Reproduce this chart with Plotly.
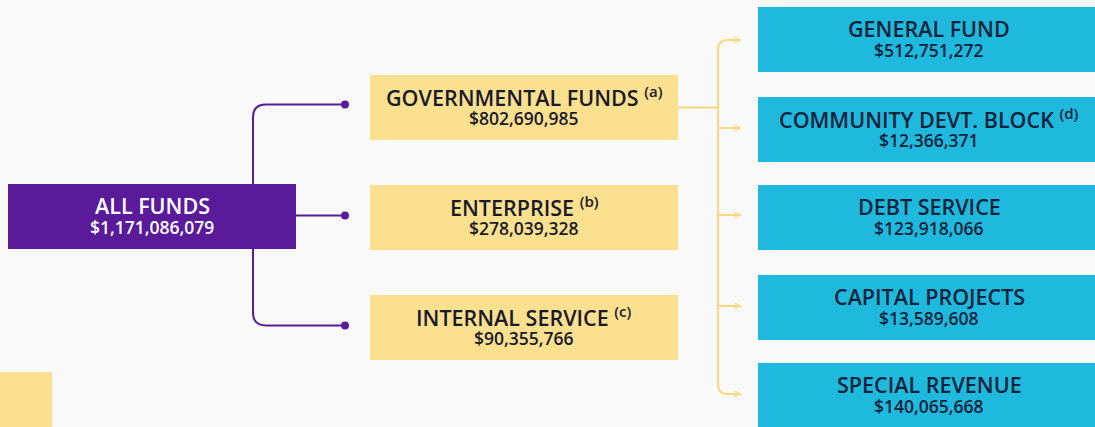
import plotly.graph_objects as go

# data
root_name = "ALL FUNDS"
root_value = "$1,171,086,079"

mid_names = ["GOVERNMENTAL FUNDS", "ENTERPRISE", "INTERNAL SERVICE"]
mid_notes = ["(a)", "(b)", "(c)"]
mid_values = ["$802,690,985", "$278,039,328", "$90,355,766"]

gov_names = ["GENERAL FUND", "COMMUNITY DEVT. BLOCK", "DEBT SERVICE",
             "CAPITAL PROJECTS", "SPECIAL REVENUE"]
gov_notes = ["", "(d)", "", "", ""]
gov_values = ["$512,751,272", "$12,366,371", "$123,918,066",
              "$13,589,608", "$140,065,668"]

W, H = 1095, 427
PURPLE = "#5a1b9b"
YELLOW = "#fbe08f"
YLINE = "#f8d982"
CYAN = "#1fb9de"
DARK = "#1a1a2a"
NAVY = "#10233a"
FONT = "Open Sans"

fig = go.Figure()
shapes = []
annotations = []


def box(x0, y0, x1, y1, color):
    shapes.append(dict(type="rect", x0=x0, y0=y0, x1=x1, y1=y1,
                       fillcolor=color, line=dict(width=0), layer="below"))


def label(x, y, name, note, value, color):
    title = name
    if note:
        title += " <sup>" + note + "</sup>"
    annotations.append(dict(x=x, y=y - 11, text=title, showarrow=False,
                            font=dict(family=FONT, size=21.5, color=color, weight=600)))
    annotations.append(dict(x=x, y=y + 10, text=value, showarrow=False,
                            font=dict(family=FONT, size=17.5, color=color, weight=600)))


def path(d, color, width=2):
    shapes.append(dict(type="path", path=d, line=dict(color=color, width=width)))


# decorative yellow square bottom-left
box(0, 372, 52, H, YELLOW)

# root box
root_x0, root_x1, root_y0, root_y1 = 8, 296, 184, 249
box(root_x0, root_y0, root_x1, root_y1, PURPLE)
label((root_x0 + root_x1) / 2, (root_y0 + root_y1) / 2, root_name, "", root_value, "white")

# middle level
mid_x0, mid_x1, mid_h, mid_gap = 370, 678, 65, 110
mid_top = 75
mid_centers = [mid_top + mid_h / 2 + i * mid_gap for i in range(len(mid_names))]
for c, n, note, v in zip(mid_centers, mid_names, mid_notes, mid_values):
    box(mid_x0, c - mid_h / 2, mid_x1, c + mid_h / 2, YELLOW)
    label((mid_x0 + mid_x1) / 2, c, n, note, v, DARK)

# purple connectors
vx, dot_x, r = 253, 345, 13
top_y, mid_y, bot_y = mid_centers[0] - 3, mid_centers[1] - 2, mid_centers[2] - 2
path(f"M {vx} {root_y0} L {vx} {top_y + r} Q {vx} {top_y} {vx + r} {top_y} L {dot_x} {top_y}", PURPLE)
path(f"M {root_x1} {mid_y} L {dot_x} {mid_y}", PURPLE)
path(f"M {vx} {root_y1} L {vx} {bot_y - r} Q {vx} {bot_y} {vx + r} {bot_y} L {dot_x} {bot_y}", PURPLE)
for y in (top_y, mid_y, bot_y):
    shapes.append(dict(type="circle", x0=dot_x - 4, x1=dot_x + 4, y0=y - 4, y1=y + 4,
                       fillcolor=PURPLE, line=dict(width=0)))

# governmental breakdown
gov_x0, gov_x1 = 758, W + 5
gov_tops = [7, 97, 185, 275, 363]
gov_h = 65
gov_centers = [t + gov_h / 2 for t in gov_tops]
for c, n, note, v in zip(gov_centers, gov_names, gov_notes, gov_values):
    box(gov_x0, c - gov_h / 2, gov_x1, c + gov_h / 2, CYAN)
    label(929, c, n, note, v, NAVY)

# yellow bracket
bx, tick_x, br = 718, 741, 10
ticks = [40, 128, 215, 306, 394]
path(f"M {mid_x1} {mid_centers[0]} L {bx} {mid_centers[0]}", YLINE)
path(f"M {tick_x} {ticks[0]} L {bx + br} {ticks[0]} Q {bx} {ticks[0]} {bx} {ticks[0] + br} "
     f"L {bx} {ticks[-1] - br} Q {bx} {ticks[-1]} {bx + br} {ticks[-1]} L {tick_x} {ticks[-1]}", YLINE)
for t in ticks[1:-1]:
    path(f"M {bx} {t} L {tick_x} {t}", YLINE)
for t in ticks:
    path(f"M {tick_x - 6} {t - 3} L {tick_x} {t} L {tick_x - 6} {t + 3} Z", YLINE, width=1)

fig.update_layout(
    width=W,
    height=H,
    margin=dict(l=0, r=0, t=0, b=0),
    paper_bgcolor="#f9f9f9",
    plot_bgcolor="#f9f9f9",
    xaxis=dict(range=[0, W], visible=False, fixedrange=True),
    yaxis=dict(range=[H, 0], visible=False, fixedrange=True),
    shapes=shapes,
    annotations=annotations,
    showlegend=False,
)

fig.write_html("out.html", config={"displayModeBar": False},
               post_script="document.body.style.margin='0';document.body.style.overflow='hidden';")
